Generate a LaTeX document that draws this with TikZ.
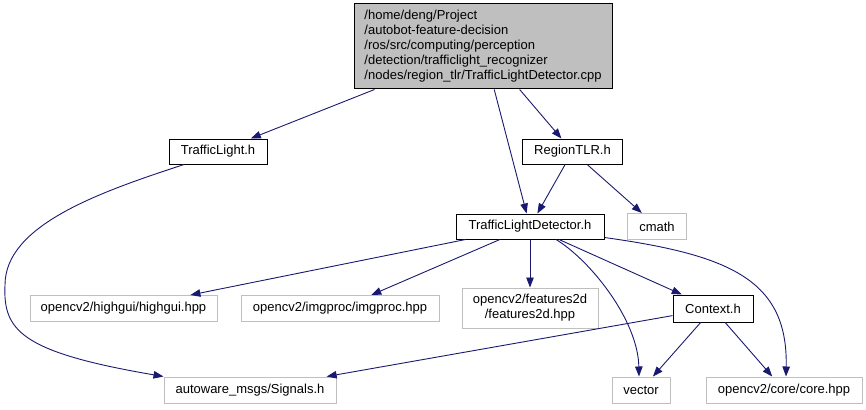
\documentclass[tikz,border=0pt]{standalone}
\usepackage{fontspec}
\setmainfont{Liberation Sans}
\usetikzlibrary{arrows.meta,calc}
\definecolor{edgeblue}{HTML}{191970}
\definecolor{graybox}{HTML}{BFBFBF}
\definecolor{grayfill}{HTML}{BFBFBF}
\begin{document}
\begin{tikzpicture}[x=1pt,y=-1pt,
  every node/.style={font=\fontsize{13}{15}\selectfont, inner sep=0pt, text=black},
  filebox/.style={draw=black, line width=1pt, fill=white, minimum height=25pt},
  extbox/.style={draw=graybox, line width=1pt, fill=white, minimum height=26pt},
  dep/.style={draw=edgeblue, line width=0.9pt, -{Triangle[length=10pt,width=7.5pt]}, edgeblue}
]
\useasboundingbox (0,0) rectangle (866,409);
\node[draw=black, line width=1pt, fill=grayfill, minimum width=258pt, minimum height=85pt, align=left] (top) at (483,46.5)
 {/home/deng/Project\\/autobot-feature-decision\\/ros/src/computing/perception\\/detection/trafficlight\_recognizer\\/nodes/region\_tlr/TrafficLightDetector.cpp};
\node[filebox, minimum width=98pt] (tl) at (218,151.5) {TrafficLight.h};
\node[filebox, minimum width=100pt] (rtlr) at (572.5,151.5) {RegionTLR.h};
\node[filebox, minimum width=148pt] (tld) at (530,226.5) {TrafficLightDetector.h};
\node[extbox, minimum width=59pt] (cmath) at (657,226.5) {cmath};
\node[extbox, minimum width=187pt] (highgui) at (123.5,308.5) {opencv2/highgui/highgui.hpp};
\node[extbox, minimum width=198pt] (imgproc) at (340,308.5) {opencv2/imgproc/imgproc.hpp};
\node[extbox, minimum width=136pt, minimum height=40pt, align=center] (feat) at (530,308) {opencv2/features2d\\/features2d.hpp};
\node[filebox, minimum width=80pt, minimum height=27pt] (ctx) at (713,308.5) {Context.h};
\node[extbox, minimum width=172pt] (sig) at (250,390) {autoware\_msgs/Signals.h};
\node[extbox, minimum width=58pt] (vec) at (641,390) {vector};
\node[extbox, minimum width=156pt] (core) at (784,390) {opencv2/core/core.hpp};

\draw[dep] (top) -- (tl);
\draw[dep] (top) -- (tld);
\draw[dep] (top) -- (rtlr);
\draw[dep] (rtlr) -- (tld);
\draw[dep] (rtlr) -- (cmath);
\draw[dep] ($(tl.south)+(-34,0)$) .. controls (100,192) and (5,225) .. (5,285)
  .. controls (3,330) and (20,352) .. ($(sig.north west)+(0,0)$);
\draw[dep] (tld) -- (highgui);
\draw[dep] (tld) -- (imgproc);
\draw[dep] (tld) -- (feat);
\draw[dep] ($(tld.south)+(26,0)$) .. controls (590,260) and (638,320) .. ($(vec.north)+(-2,0)$);
\draw[dep] (tld) -- (ctx);
\draw[dep] ($(tld.south east)+(0,-2)$) .. controls (730,255) and (788,280) .. ($(core.north)+(2,0)$);
\draw[dep] (ctx) -- (sig);
\draw[dep] (ctx) -- (vec);
\draw[dep] (ctx) -- (core);
\end{tikzpicture}
\end{document}
